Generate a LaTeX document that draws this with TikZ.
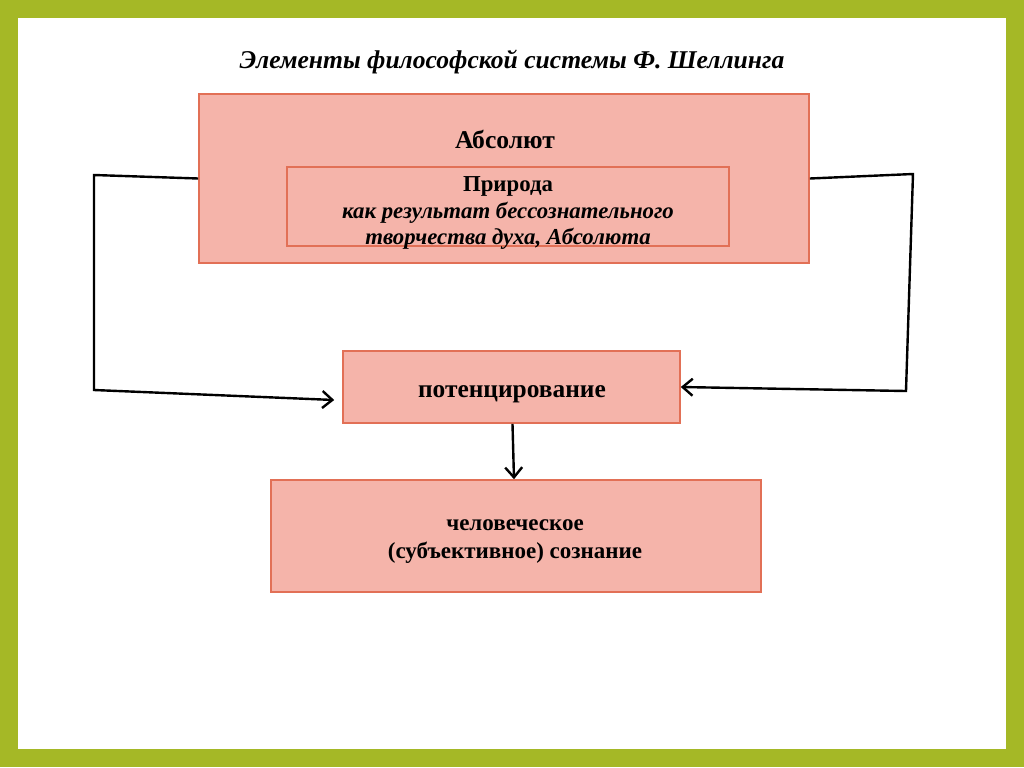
\documentclass[tikz,border=0pt]{standalone}
\usepackage{fontspec}
\setmainfont{Liberation Serif}
\usepackage{tikz}
\usetikzlibrary{arrows.meta}

\definecolor{frame}{RGB}{165,184,38}
\definecolor{boxfill}{RGB}{245,180,170}
\definecolor{boxline}{RGB}{226,112,86}

\begin{document}
\begin{tikzpicture}[x=0.5pt,y=-0.5pt,
  box/.style={draw=boxline,fill=boxfill,line width=0.8pt,inner sep=0pt},
  txt/.style={align=center,inner sep=0pt,font=\bfseries},
  link/.style={draw=black,line width=1.2pt,-{Straight Barb[length=5pt,width=8.5pt,line width=1.2pt]}}]
\fill[frame] (0,0) rectangle (1024,767);
\fill[white] (18,18) rectangle (1006,749);
\useasboundingbox (0,0) rectangle (1024,767);
% title
\node[txt] (title) at (512,62) {\fontsize{12.8}{15}\selectfont\itshape Элементы философской системы Ф. Шеллинга};
% boxes
\node[box,minimum width=305pt,minimum height=84.5pt] (abs) at (504,178.5) {};
\node[txt] (abstext) at (505,139) {\fontsize{12.8}{15}\selectfont Абсолют};
\node[box,minimum width=221pt,minimum height=39.5pt] (nature) at (508,206.5) {};
\node[txt,font=\fontsize{11.4}{13.2}\selectfont\bfseries] (naturetext) at (508,213)
  {Природа\\\itshape как результат бессознательного\\\itshape творчества духа, Абсолюта};
\node[box,minimum width=168.5pt,minimum height=36pt] (potenz) at (511.5,387) {};
\node[txt] (potenztext) at (512,394) {\fontsize{12.7}{15}\selectfont потенцирование};
\node[box,minimum width=245pt,minimum height=56pt] (human) at (516,536) {};
\node[txt,font=\fontsize{11.5}{14}\selectfont\bfseries] (humantext) at (515,542)
  {человеческое\\(субъективное) сознание};
% connectors
\coordinate (lt) at (94,175);
\coordinate (lb) at (94,390);
\coordinate (rt) at (913,174);
\coordinate (rb) at (906,391);
\draw[link] (abs.west) -- (lt) -- (lb) -- ([xshift=-4pt,yshift=-6.5pt]potenz.west);
\draw[link] (abs.east) -- (rt) -- (rb) -- (potenz.east);
\draw[link] ([xshift=0.5pt]potenz.south) -- ([xshift=-1pt]human.north);
\end{tikzpicture}
\end{document}
